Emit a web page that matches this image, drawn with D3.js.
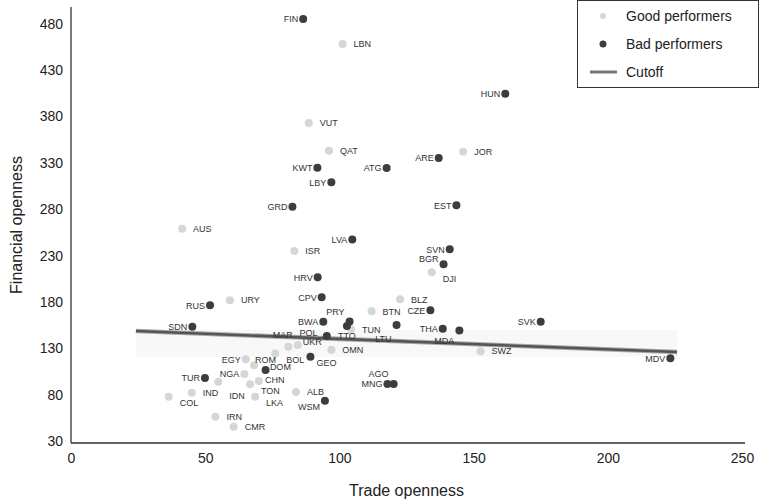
<!DOCTYPE html>
<html>
<head>
<meta charset="utf-8">
<script src="https://cdnjs.cloudflare.com/ajax/libs/d3/7.8.5/d3.min.js"></script>
<style>
  body { margin: 0; background: #fff; }
  svg text { font-family: "Liberation Sans", Arial, Helvetica, sans-serif; }
</style>
</head>
<body>
<div id="chart"></div>
<script>
// good performers
const goodCountries = ["LBN","VUT","QAT","JOR","AUS","ISR","DJI","URY","BLZ","BTN","TUN","OMN","SWZ","MAR","POL","BOL","EGY","CHN","NGA","IDN","TON","DOM","LKA","ALB","IND","COL","IRN","CMR"];
const goodTrade     = [101.2, 88.6, 96.1, 146.1, 41.4, 83.2, 134.4, 59.2, 122.6, 112.0, 104.3, 97.0, 152.6, 84.5, 81.0, 76.1, 65.1, 68.2, 64.6, 54.9, 66.7, 70.0, 68.6, 83.8, 45.0, 36.4, 53.8, 60.6];
const goodFinancial = [458, 373, 343, 342, 259, 235, 212, 182, 183, 170, 150.5, 128.5, 127, 133.6, 131.8, 124.6, 118.2, 111.7, 102.3, 94, 91.2, 94.8, 77.9, 82.9, 82.2, 77.9, 56.3, 45.5];

// bad performers
const badCountries = ["FIN","HUN","ARE","KWT","ATG","LBY","EST","GRD","LVA","SVN","BGR","HRV","CPV","RUS","CZE","BWA","PRY","SVK","TTO","LTU","SDN","THA","MDA","UKR","GEO","MDV","ROM","TUR","MNG","AGO","WSM"];
const badTrade     = [86.5, 161.8, 137.0, 91.8, 117.6, 97.0, 143.6, 82.5, 104.8, 141.1, 138.8, 91.9, 93.4, 51.8, 133.9, 94.0, 103.8, 175.0, 102.8, 121.3, 45.2, 138.5, 144.7, 95.3, 89.2, 223.3, 72.5, 49.9, 117.9, 120.2, 94.6];
const badFinancial = [485, 404.5, 335.2, 324.7, 324.4, 309, 284.2, 282.7, 247.5, 236.8, 220.6, 206.6, 185, 176.4, 171, 158.7, 159.1, 158.7, 154.1, 155.1, 153.3, 151.2, 149.4, 143.3, 121, 119.3, 106.6, 98, 91.6, 91.6, 73.5];

// cutoff line
const cutoffTrade = [24.2, 225.8];
const cutoffFinancial = [148.7, 126];

const xTicks = [0, 50, 100, 150, 200, 250];
const yTicks = [30, 80, 130, 180, 230, 280, 330, 380, 430, 480];

const legendItems = ["Good performers", "Bad performers", "Cutoff"];

class ScatterRenderer {
    constructor(config) {
        this.config = config;
        this.svg = null;
        this.x = null;
        this.y = null;
    }

    initialize() {
        const c = this.config;
        this.svg = d3.select("#chart")
            .append("svg")
            .attr("width", c.width)
            .attr("height", c.height);

        this.x = d3.scaleLinear().domain([0, 250]).range([c.left, c.right]);
        this.y = d3.scaleLinear().domain([28, 498]).range([c.bottom, c.top]);
    }

    render() {
        const c = this.config;
        const x = this.x, y = this.y;

        // faint band around the cutoff line
        const lo = d3.min(cutoffFinancial) - 5, hi = d3.max(cutoffFinancial) + 1.3;
        this.svg.append("rect")
            .attr("x", x(cutoffTrade[0]))
            .attr("y", y(hi))
            .attr("width", x(cutoffTrade[1]) - x(cutoffTrade[0]))
            .attr("height", y(lo) - y(hi))
            .attr("fill", "#f8f8f8");

        // axes (no tick marks, only lines + labels)
        const xAxis = this.svg.append("g")
            .attr("transform", `translate(0,${c.bottom})`)
            .call(d3.axisBottom(x).tickValues(xTicks).tickSize(0).tickPadding(10));
        xAxis.select(".domain").remove();
        xAxis.selectAll("text").attr("font-size", 14).attr("fill", "#222")
            .style("font-family", "Liberation Sans, Arial, sans-serif");

        const yAxis = this.svg.append("g")
            .attr("transform", `translate(${c.left},0)`)
            .call(d3.axisLeft(y).tickValues(yTicks).tickSize(0).tickPadding(8));
        yAxis.select(".domain").remove();
        yAxis.selectAll("text").attr("font-size", 14).attr("fill", "#222")
            .style("font-family", "Liberation Sans, Arial, sans-serif");

        this.svg.append("line")
            .attr("x1", c.left).attr("x2", c.left)
            .attr("y1", c.top).attr("y2", c.bottom)
            .attr("stroke", "#333").attr("stroke-width", 1.3);
        this.svg.append("line")
            .attr("x1", c.left).attr("x2", c.right + 3)
            .attr("y1", c.bottom).attr("y2", c.bottom)
            .attr("stroke", "#333").attr("stroke-width", 1.3);

        // axis titles
        this.svg.append("text")
            .attr("x", (c.left + c.right) / 2)
            .attr("y", 496)
            .attr("text-anchor", "middle")
            .attr("font-size", 16)
            .attr("fill", "#222")
            .text("Trade openness");
        this.svg.append("text")
            .attr("transform", `translate(22,${(c.top + c.bottom) / 2}) rotate(-90)`)
            .attr("text-anchor", "middle")
            .attr("font-size", 16)
            .attr("fill", "#222")
            .text("Financial openness");

        // cutoff line
        const cut = cutoffTrade.map((t, i) => ({ t, f: cutoffFinancial[i] }));
        const line = d3.line().x(d => x(d.t)).y(d => y(d.f));
        this.svg.append("path")
            .attr("d", line(cut))
            .attr("stroke", "#aaa").attr("stroke-width", 4.5).attr("fill", "none");
        this.svg.append("path")
            .attr("d", line(cut))
            .attr("stroke", "#555").attr("stroke-width", 2.5).attr("fill", "none");

        const good = goodCountries.map((k, i) => ({ k, t: goodTrade[i], f: goodFinancial[i], good: true }));
        const bad = badCountries.map((k, i) => ({ k, t: badTrade[i], f: badFinancial[i], good: false }));

        // points
        this.svg.append("g").selectAll("circle")
            .data(good).enter().append("circle")
            .attr("cx", d => x(d.t)).attr("cy", d => y(d.f))
            .attr("r", 4).attr("fill", "#d6d6d6");
        this.svg.append("g").selectAll("circle")
            .data(bad).enter().append("circle")
            .attr("cx", d => x(d.t)).attr("cy", d => y(d.f))
            .attr("r", 4).attr("fill", "#3d3d3d");

        this.renderLabels(good.concat(bad));
        this.renderLegend();
    }

    // labels: good to the right, bad to the left; nudged when they collide
    renderLabels(points) {
        const x = this.x, y = this.y;
        const g = this.svg.append("g");
        const placed = [];
        const dots = points.map(p => ({ x0: x(p.t) - 4, x1: x(p.t) + 4, y0: y(p.f) - 4, y1: y(p.f) + 4, k: p.k }));
        const overlap = (a, b) =>
            Math.max(0, Math.min(a.x1, b.x1) - Math.max(a.x0, b.x0)) *
            Math.max(0, Math.min(a.y1, b.y1) - Math.max(a.y0, b.y0));

        points.forEach(p => {
            const t = g.append("text")
                .attr("font-size", 9).attr("fill", "#333")
                .text(p.k);
            const w = t.node().getComputedTextLength();
            const h = 9;
            const cx = x(p.t), cy = y(p.f);
            const side = p.good ? [cx + 11, cx + 11 + w] : [cx - 5 - w, cx - 5];
            const other = p.good ? [cx - 5 - w, cx - 5] : [cx + 6, cx + 6 + w];
            const cands = [];
            [0, -6, 6, -10, 10, -14, 14].forEach(dy => cands.push([side, dy]));
            [0, -6, 6, -10, 10].forEach(dy => cands.push([other, dy]));
            [-10, 10].forEach(dy => cands.push([[cx - w / 2, cx + w / 2], dy]));

            let best = null, bestScore = Infinity;
            cands.forEach((cand, i) => {
                const box = { x0: cand[0][0] - 1.5, x1: cand[0][1] + 1.5, y0: cy - h / 2 + cand[1], y1: cy + h / 2 + cand[1] };
                let s = 0;
                placed.forEach(b => { s += overlap(box, b) * 3; });
                dots.forEach(d => { if (d.k !== p.k) s += overlap(box, d); });
                s += i * 0.01;
                if (s < bestScore) { bestScore = s; best = box; }
            });
            placed.push(best);
            t.attr("x", best.x0 + 1.5).attr("y", best.y1 - 1.2);
        });
    }

    renderLegend() {
        const lg = this.svg.append("g");
        lg.append("rect")
            .attr("x", 577.5).attr("y", 0.5)
            .attr("width", 181).attr("height", 87)
            .attr("fill", "#fff").attr("stroke", "#333");

        const rows = [16, 44, 72];
        lg.append("circle").attr("cx", 603).attr("cy", rows[0]).attr("r", 3).attr("fill", "#d6d6d6");
        lg.append("circle").attr("cx", 603).attr("cy", rows[1]).attr("r", 3.5).attr("fill", "#3d3d3d");
        lg.append("line")
            .attr("x1", 590).attr("x2", 617)
            .attr("y1", rows[2]).attr("y2", rows[2])
            .attr("stroke", "#777").attr("stroke-width", 3);

        lg.selectAll("text.item")
            .data(legendItems).enter().append("text")
            .attr("class", "item")
            .attr("x", 626)
            .attr("y", (d, i) => rows[i] + 5)
            .attr("font-size", 14)
            .attr("fill", "#222")
            .text(d => d);
    }
}

const chart = new ScatterRenderer({
    width: 761, height: 502,
    left: 71, right: 742, top: 7, bottom: 443
});
chart.initialize();
chart.render();
</script>
</body>
</html>
